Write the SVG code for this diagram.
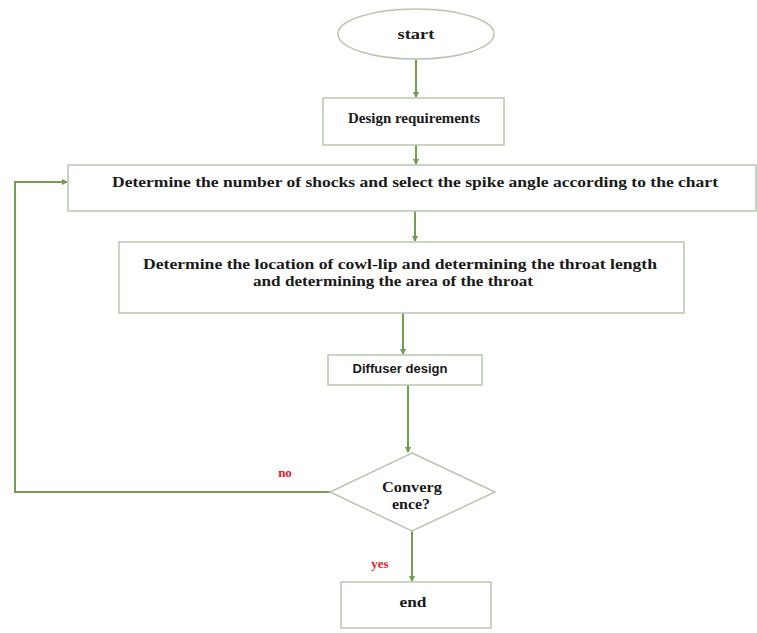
<svg xmlns="http://www.w3.org/2000/svg" width="757" height="633" viewBox="0 0 757 633">
<defs>
<marker id="ah" markerWidth="6" markerHeight="6" refX="5" refY="3" orient="auto" markerUnits="userSpaceOnUse">
<path d="M0,0 L6,3 L0,6 Z" fill="#6f9a50"/>
</marker>
</defs>
<style>
.box{fill:#fff;stroke:#b9c6ae;stroke-width:1.5}
.ln{fill:none;stroke:#72a04f;stroke-width:2}
.t{font-family:"Liberation Serif","Times New Roman",serif;font-weight:bold;font-size:14px;fill:#1a1a1a;text-anchor:middle;dominant-baseline:central}
.s{font-family:"Liberation Sans",Arial,sans-serif;font-weight:bold;font-size:12.5px;fill:#1a1a1a;text-anchor:middle;dominant-baseline:central}
.r{font-family:"Liberation Serif","Times New Roman",serif;font-weight:bold;font-size:13px;fill:#e0202a;text-anchor:middle;dominant-baseline:central}
</style>
<rect width="757" height="633" fill="#fff"/>
<g id="connectors">
<line class="ln" x1="416" y1="60" x2="416" y2="97" marker-end="url(#ah)"/>
<line class="ln" x1="416" y1="145" x2="416" y2="164" marker-end="url(#ah)"/>
<line class="ln" x1="415" y1="211" x2="415" y2="241" marker-end="url(#ah)"/>
<line class="ln" x1="403" y1="313" x2="403" y2="354" marker-end="url(#ah)"/>
<line class="ln" x1="408" y1="385" x2="408" y2="452" marker-end="url(#ah)"/>
<line class="ln" x1="412" y1="531" x2="412" y2="581" marker-end="url(#ah)"/>
<polyline class="ln" points="330,492 15,492 15,182 67,182" marker-end="url(#ah)"/>
<text class="r" x="285" y="472">no</text>
<text class="r" x="380" y="563">yes</text>
</g>
<g id="start">
<ellipse class="box" cx="416" cy="34" rx="78" ry="25"/>
<text class="t" x="416" y="34" textLength="37" lengthAdjust="spacingAndGlyphs">start</text>
</g>
<g id="design-requirements">
<rect class="box" x="323" y="98" width="181" height="47"/>
<text class="t" x="414" y="118" textLength="132" lengthAdjust="spacingAndGlyphs">Design requirements</text>
</g>
<g id="shocks">
<rect class="box" x="68" y="165" width="688" height="46"/>
<text class="t" x="415" y="182" textLength="606" lengthAdjust="spacingAndGlyphs">Determine the number of shocks and select the spike angle according to the chart</text>
</g>
<g id="cowl-lip">
<rect class="box" x="119" y="242" width="565" height="71"/>
<text class="t" x="400" y="264" textLength="514" lengthAdjust="spacingAndGlyphs">Determine the location of cowl-lip and determining the throat length</text>
<text class="t" x="393" y="281" textLength="280" lengthAdjust="spacingAndGlyphs">and determining the area of the throat</text>
</g>
<g id="diffuser">
<rect class="box" x="328" y="355" width="154" height="30"/>
<text class="s" x="400" y="369" textLength="95" lengthAdjust="spacingAndGlyphs">Diffuser design</text>
</g>
<g id="convergence">
<polygon class="box" points="412,453 495,492 412,531 330,492"/>
<text class="t" x="412" y="487" textLength="60" lengthAdjust="spacingAndGlyphs">Converg</text>
<text class="t" x="411" y="504" textLength="38" lengthAdjust="spacingAndGlyphs">ence?</text>
</g>
<g id="end">
<rect class="box" x="341" y="582" width="150" height="46"/>
<text class="t" x="413" y="602" textLength="27" lengthAdjust="spacingAndGlyphs">end</text>
</g>
</svg>
